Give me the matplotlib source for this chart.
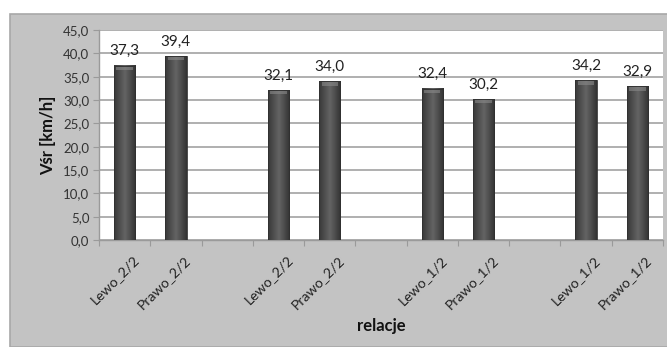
import numpy as np
import matplotlib
matplotlib.use('Agg')
import matplotlib.pyplot as plt
from matplotlib.patches import Rectangle
from matplotlib.colors import LinearSegmentedColormap

# Average speed per relation; empty slots separate the groups
categories = ['Lewo_2/2', 'Prawo_2/2', '', 'Lewo_2/2', 'Prawo_2/2', '',
              'Lewo_1/2', 'Prawo_1/2', '', 'Lewo_1/2', 'Prawo_1/2']
values = [37.3, 39.4, None, 32.1, 34.0, None, 32.4, 30.2, None, 34.2, 32.9]
y_ticks = [0, 5, 10, 15, 20, 25, 30, 35, 40, 45]

BG_GRAY = '#c3c3c3'
GRID = '#9a9a9a'
FONT = ['Lato', 'DejaVu Sans']
BAR_W = 0.42

plt.rcParams['font.family'] = FONT

fig = plt.figure(figsize=(6.67, 3.47), dpi=100, facecolor='white')

# gray chart frame
frame = Rectangle((9.5 / 667, 0), 1, 1 - 14 / 347, transform=fig.transFigure,
                  facecolor=BG_GRAY, edgecolor='#a8a8a8', linewidth=1.2, zorder=-10)
fig.patches.append(frame)

ax = fig.add_axes([99 / 667, 1 - 240 / 347, 564 / 667, 210 / 347])
ax.set_facecolor('white')

n = len(categories)

# cylinder-like shading across each bar
shade = LinearSegmentedColormap.from_list(
    'shade', ['#383838', '#4e4e4e', '#646464', '#4c4c4c', '#323232'])
grad = np.linspace(0, 1, 64).reshape(1, -1)

for i, v in enumerate(values):
    if v is None:
        continue
    xc = i + 0.5
    x0, x1 = xc - BAR_W / 2, xc + BAR_W / 2
    ax.imshow(grad, cmap=shade, aspect='auto', extent=(x0, x1, 0, v),
              zorder=3, interpolation='bilinear')
    ax.add_patch(Rectangle((x0, 0), BAR_W, v, fill=False,
                           edgecolor='#303030', linewidth=0.6, zorder=4))
    # lighter cap at the top of the bar
    ax.add_patch(Rectangle((x0 + 0.05, v - 0.9), BAR_W - 0.1, 0.7,
                           facecolor='#8a8a8a', edgecolor='none', alpha=0.6, zorder=4))
    ax.annotate(f'{v:.1f}'.replace('.', ','), (xc, v), xytext=(0, 5.5),
                textcoords='offset points', ha='center', va='bottom',
                fontsize=11, color='#222222', zorder=5)

ax.set_xlim(0, n)
ax.set_ylim(0, 45)

ax.set_yticks(y_ticks)
ax.set_yticklabels([f'{t:.1f}'.replace('.', ',') for t in y_ticks],
                   fontsize=9.5, color='#333333')
ax.yaxis.grid(True, color=GRID, linewidth=1.1)
ax.set_axisbelow(True)

# ticks on slot boundaries, labels under the slot centres
ax.set_xticks(np.arange(n + 1))
ax.set_xticklabels([])
ax.tick_params(axis='x', direction='out', length=4, color=GRID, width=0.8)
ax.tick_params(axis='y', direction='out', length=4, color=GRID, width=0.8, pad=3)

for i, lab in enumerate(categories):
    if lab:
        ax.text(i + 0.66, -2.9, lab, rotation=45, rotation_mode='anchor',
                ha='right', va='top', fontsize=10.2, color='#222222')

for side in ['top', 'right']:
    ax.spines[side].set_visible(False)
for side in ['left', 'bottom']:
    ax.spines[side].set_color(GRID)
    ax.spines[side].set_linewidth(1.0)

ax.set_ylabel('Vśr [km/h]', fontsize=12, fontweight='bold', color='#111111',
              labelpad=5)
fig.text(381 / 667, 1 - 326 / 347, 'relacje', ha='center', va='center',
         fontsize=12, fontweight='bold', color='#111111')

fig.savefig('out.png', dpi=100, facecolor='white')
